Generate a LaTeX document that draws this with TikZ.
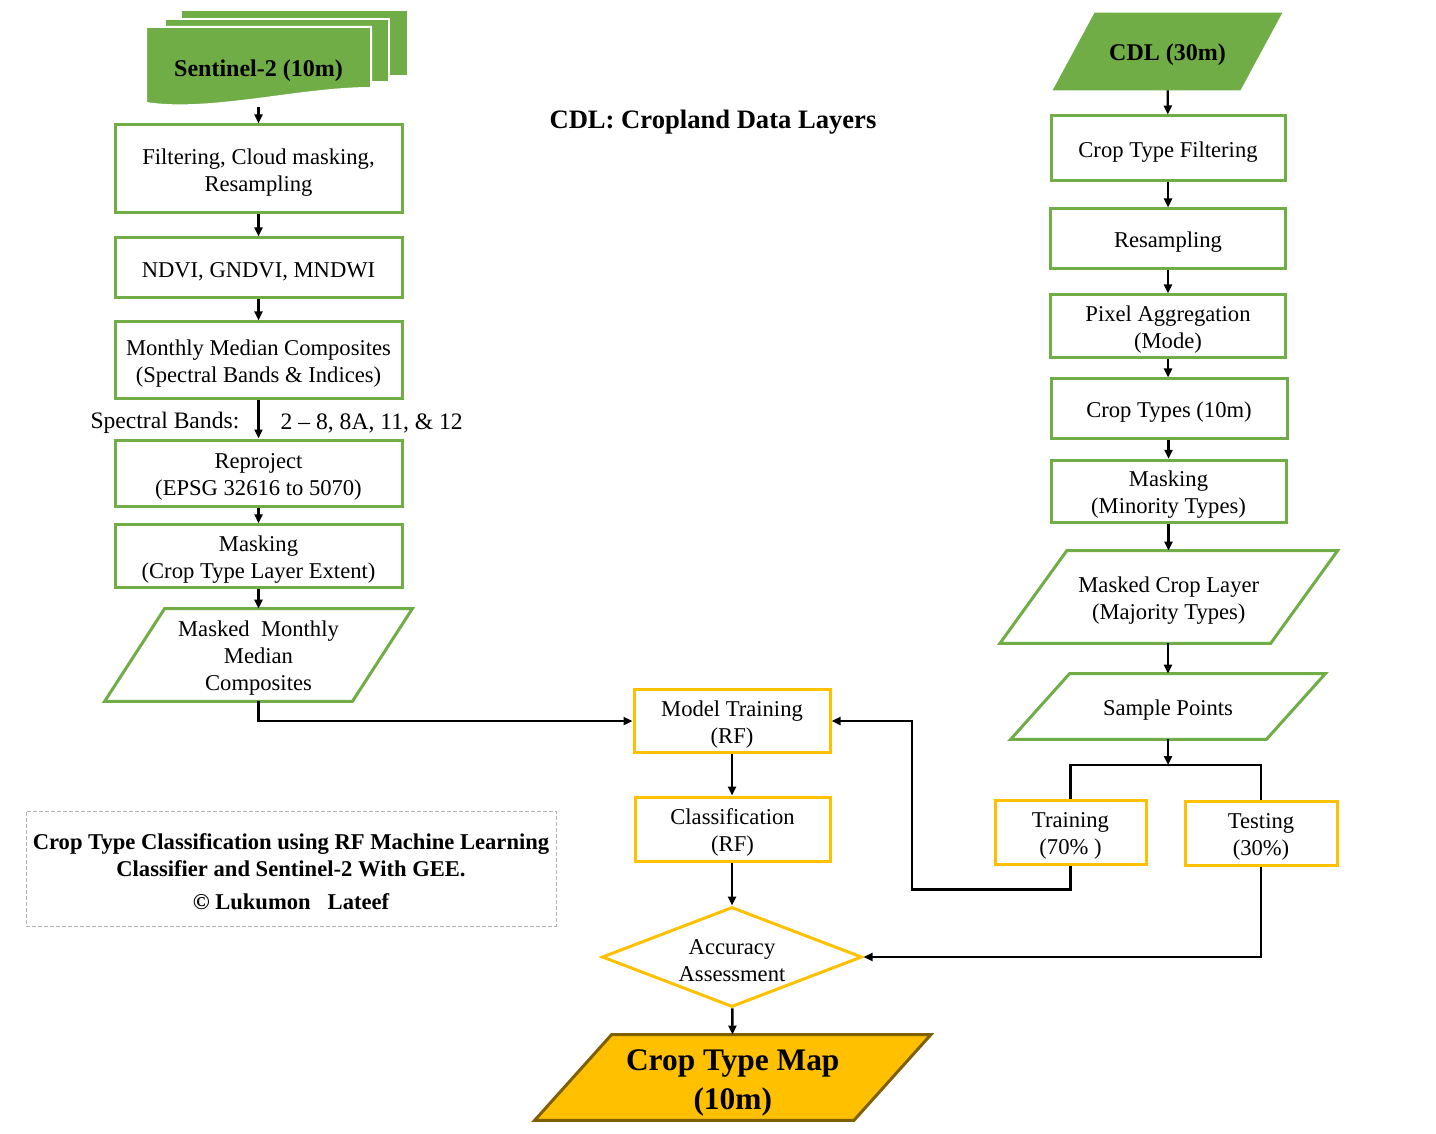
\documentclass[tikz,border=0pt]{standalone}
\usepackage{fontspec}
\setmainfont{Liberation Serif}
\usetikzlibrary{arrows.meta}
\usetikzlibrary{positioning}
\usetikzlibrary{shapes.geometric}
\usetikzlibrary{backgrounds}

\definecolor{leafgreen}{HTML}{70AD47}
\definecolor{amber}{HTML}{FFC000}
\definecolor{olivebrown}{HTML}{7F6000}

% taller first line, so that text sits a little lower
\newcommand{\lift}{\rule{0pt}{1em}}

\tikzset{
  every node/.append style={execute at begin node={\lift}},
  boxtext/.style={align=center, inner sep=2pt, font=\fontsize{11.3}{13.5}\selectfont},
  greenbox/.style={boxtext, draw=leafgreen, line width=1.5pt},
  amberbox/.style={boxtext, draw=amber, line width=1.5pt},
  slanted/.style={boxtext, draw=none},
  flow/.style={-{Triangle[length=4.5pt,width=4pt]}, line width=1.2pt},
  plain/.style={line width=1.2pt},
}

% parallelogram frame round a node: node, half shift, style
\newcommand{\slantframe}[3]{%
  \path[#3] ([xshift=-#2]#1.south west) -- ([xshift=-#2]#1.south east)
    -- ([xshift=#2]#1.north east) -- ([xshift=#2]#1.north west) -- cycle;}

\begin{document}
\begin{tikzpicture}[x=0.5pt,y=-0.5pt]
  \useasboundingbox (0,0) rectangle (1436,1134);

  % Sentinel-2 stack of sheets
  \fill[leafgreen] (182,11) rectangle (407,75);
  \draw[fill=leafgreen, draw=white, line width=1pt] (165,19) rectangle (389,82);
  \draw[fill=leafgreen, draw=white, line width=1pt] (146,27) -- (371,27) -- (371,88)
    .. controls (300,88) and (210,113) .. (146,103) -- cycle;
  \node[slanted, minimum width=112.5pt, minimum height=40pt,
    font=\fontsize{12}{14}\selectfont\bfseries] (s2) at (258.5,67) {Sentinel-2 (10m)};

  % left column
  \node[greenbox, minimum width=143.5pt, minimum height=44pt] (filt) at (258.5,169)
    {\lift Filtering, Cloud masking,\\Resampling};
  \node[greenbox, minimum width=143.5pt, minimum height=30pt] (idx) at (258.5,268)
    {NDVI, GNDVI, MNDWI};
  \node[greenbox, minimum width=143.5pt, minimum height=38.5pt] (comp) at (258.5,360.5)
    {\lift Monthly Median Composites\\(Spectral Bands \& Indices)};
  \node[greenbox, minimum width=143.5pt, minimum height=33pt] (repr) at (258.5,473)
    {\lift Reproject\\(EPSG 32616 to 5070)};
  \node[greenbox, minimum width=143.5pt, minimum height=31pt] (mext) at (258.5,556)
    {\lift Masking\\(Crop Type Layer Extent)};
  \node[slanted, minimum width=123.5pt, minimum height=46pt] (mmc) at (258.5,655)
    {\lift Masked\ \ Monthly\\Median\\Composites};

  % right column
  \node[slanted, minimum width=93.5pt, minimum height=38.5pt,
    font=\fontsize{12}{14}\selectfont\bfseries] (cdl) at (1167.5,51.5) {CDL (30m)};
  \node[greenbox, minimum width=117pt, minimum height=32.5pt] (ctf) at (1168,148.5)
    {Crop Type Filtering};
  \node[greenbox, minimum width=117.5pt, minimum height=30pt] (rsmp) at (1168,239)
    {Resampling};
  \node[greenbox, minimum width=117.5pt, minimum height=30pt] (pagg) at (1168,326)
    {\lift Pixel Aggregation\\(Mode)};
  \node[greenbox, minimum width=118pt, minimum height=29.5pt] (ctyp) at (1169,408.5)
    {Crop Types (10m)};
  \node[greenbox, minimum width=117.5pt, minimum height=30.5pt] (mmin) at (1168.5,491.5)
    {\lift Masking\\(Minority Types)};
  \node[slanted, minimum width=135pt, minimum height=46pt] (mcl) at (1168.75,597)
    {\lift Masked Crop Layer\\(Majority Types)};
  \node[slanted, minimum width=127.5pt, minimum height=32.5pt] (spts) at (1168,706.5)
    {Sample Points};
  \node[amberbox, minimum width=75.5pt, minimum height=32pt] (trn) at (1070.5,832)
    {\lift Training\\(70\% )};
  \node[amberbox, minimum width=76pt, minimum height=32pt] (tst) at (1261,833)
    {\lift Testing\\(30\%)};
  \coordinate (split) at (1168,765);

  % middle column
  \node[amberbox, minimum width=98pt, minimum height=31pt] (mtr) at (732,721)
    {\lift Model Training\\(RF)};
  \node[amberbox, minimum width=97.5pt, minimum height=32pt] (clsf) at (732.5,829)
    {\lift Classification\\(RF)};
  \node[diamond, draw=amber, line width=1.5pt, aspect=2.6, inner sep=0pt,
    minimum width=130pt, minimum height=50pt, align=center,
    font=\fontsize{11.3}{13.5}\selectfont] (acc) at (732,957) {\lift Accuracy\\Assessment};
  \node[slanted, minimum width=159.25pt, minimum height=42.5pt,
    font=\fontsize{15.7}{19.2}\selectfont\bfseries] (ctm) at (732.75,1077.5)
    {\lift Crop Type Map\\(10m)};

  % title and credit
  \node[font=\fontsize{13.3}{16}\selectfont\bfseries] (title) at (713,118)
    {CDL: Cropland Data Layers};
  \node[draw=gray!60, dash pattern=on 2pt off 1pt, line width=0.5pt,
    minimum width=265pt, minimum height=57.5pt, align=center,
    font=\fontsize{11.3}{13.5}\selectfont\bfseries] (credit) at (291,868.5)
    {\lift Crop Type Classification using RF Machine Learning\\Classifier and Sentinel-2 With GEE.\\[3pt]© Lukumon\ \ \ Lateef};

  % parallelogram frames
  \begin{scope}[on background layer]
    \slantframe{mmc}{15pt}{draw=leafgreen, line width=1.5pt}
    \slantframe{cdl}{10.5pt}{fill=leafgreen}
    \slantframe{mcl}{16.75pt}{draw=leafgreen, line width=1.5pt}
    \slantframe{spts}{14.75pt}{draw=leafgreen, line width=1.5pt}
    \slantframe{ctm}{19.25pt}{fill=amber, draw=olivebrown, line width=1.5pt}
  \end{scope}

  % connectors
  \draw[flow] (s2) -- (filt);
  \draw[flow] (filt) -- (idx);
  \draw[flow] (idx) -- (comp);
  \draw[flow] (comp) --
    node[left=9pt, inner sep=0pt, font=\fontsize{11.8}{14}\selectfont] {Spectral Bands:}
    node[right=10.5pt, inner sep=0pt, font=\fontsize{11.8}{14}\selectfont] {2 – 8, 8A, 11, \& 12}
    (repr);
  \draw[flow] (repr) -- (mext);
  \draw[flow] (mext) -- (mmc);
  \draw[flow] (mmc.south) |- (mtr.west);

  \draw[flow] (cdl) -- (ctf);
  \draw[flow] (ctf) -- (rsmp);
  \draw[flow] (rsmp) -- (pagg);
  \draw[flow] (pagg) -- (ctyp.north -| pagg.south);
  \draw[flow] (ctyp.south -| mmin.north) -- (mmin);
  \draw[flow] (mmin.south) -- (mcl.north -| mmin.south);
  \draw[flow] (mcl.south -| spts.north) -- (spts);
  \draw[flow] (spts) -- (split);
  \draw[plain] (trn.north) |- (split) -| (tst.north);
  \draw[flow] (trn.south) -- ++(0,24) -- ++(-158.5,0) |- (mtr.east);
  \draw[flow] (tst.south) |- (acc.east);

  \draw[flow] (mtr) -- (clsf.north -| mtr.south);
  \draw[flow] (clsf.south -| acc.north) -- (acc);
  \draw[flow] (acc) -- (ctm);
\end{tikzpicture}
\end{document}
